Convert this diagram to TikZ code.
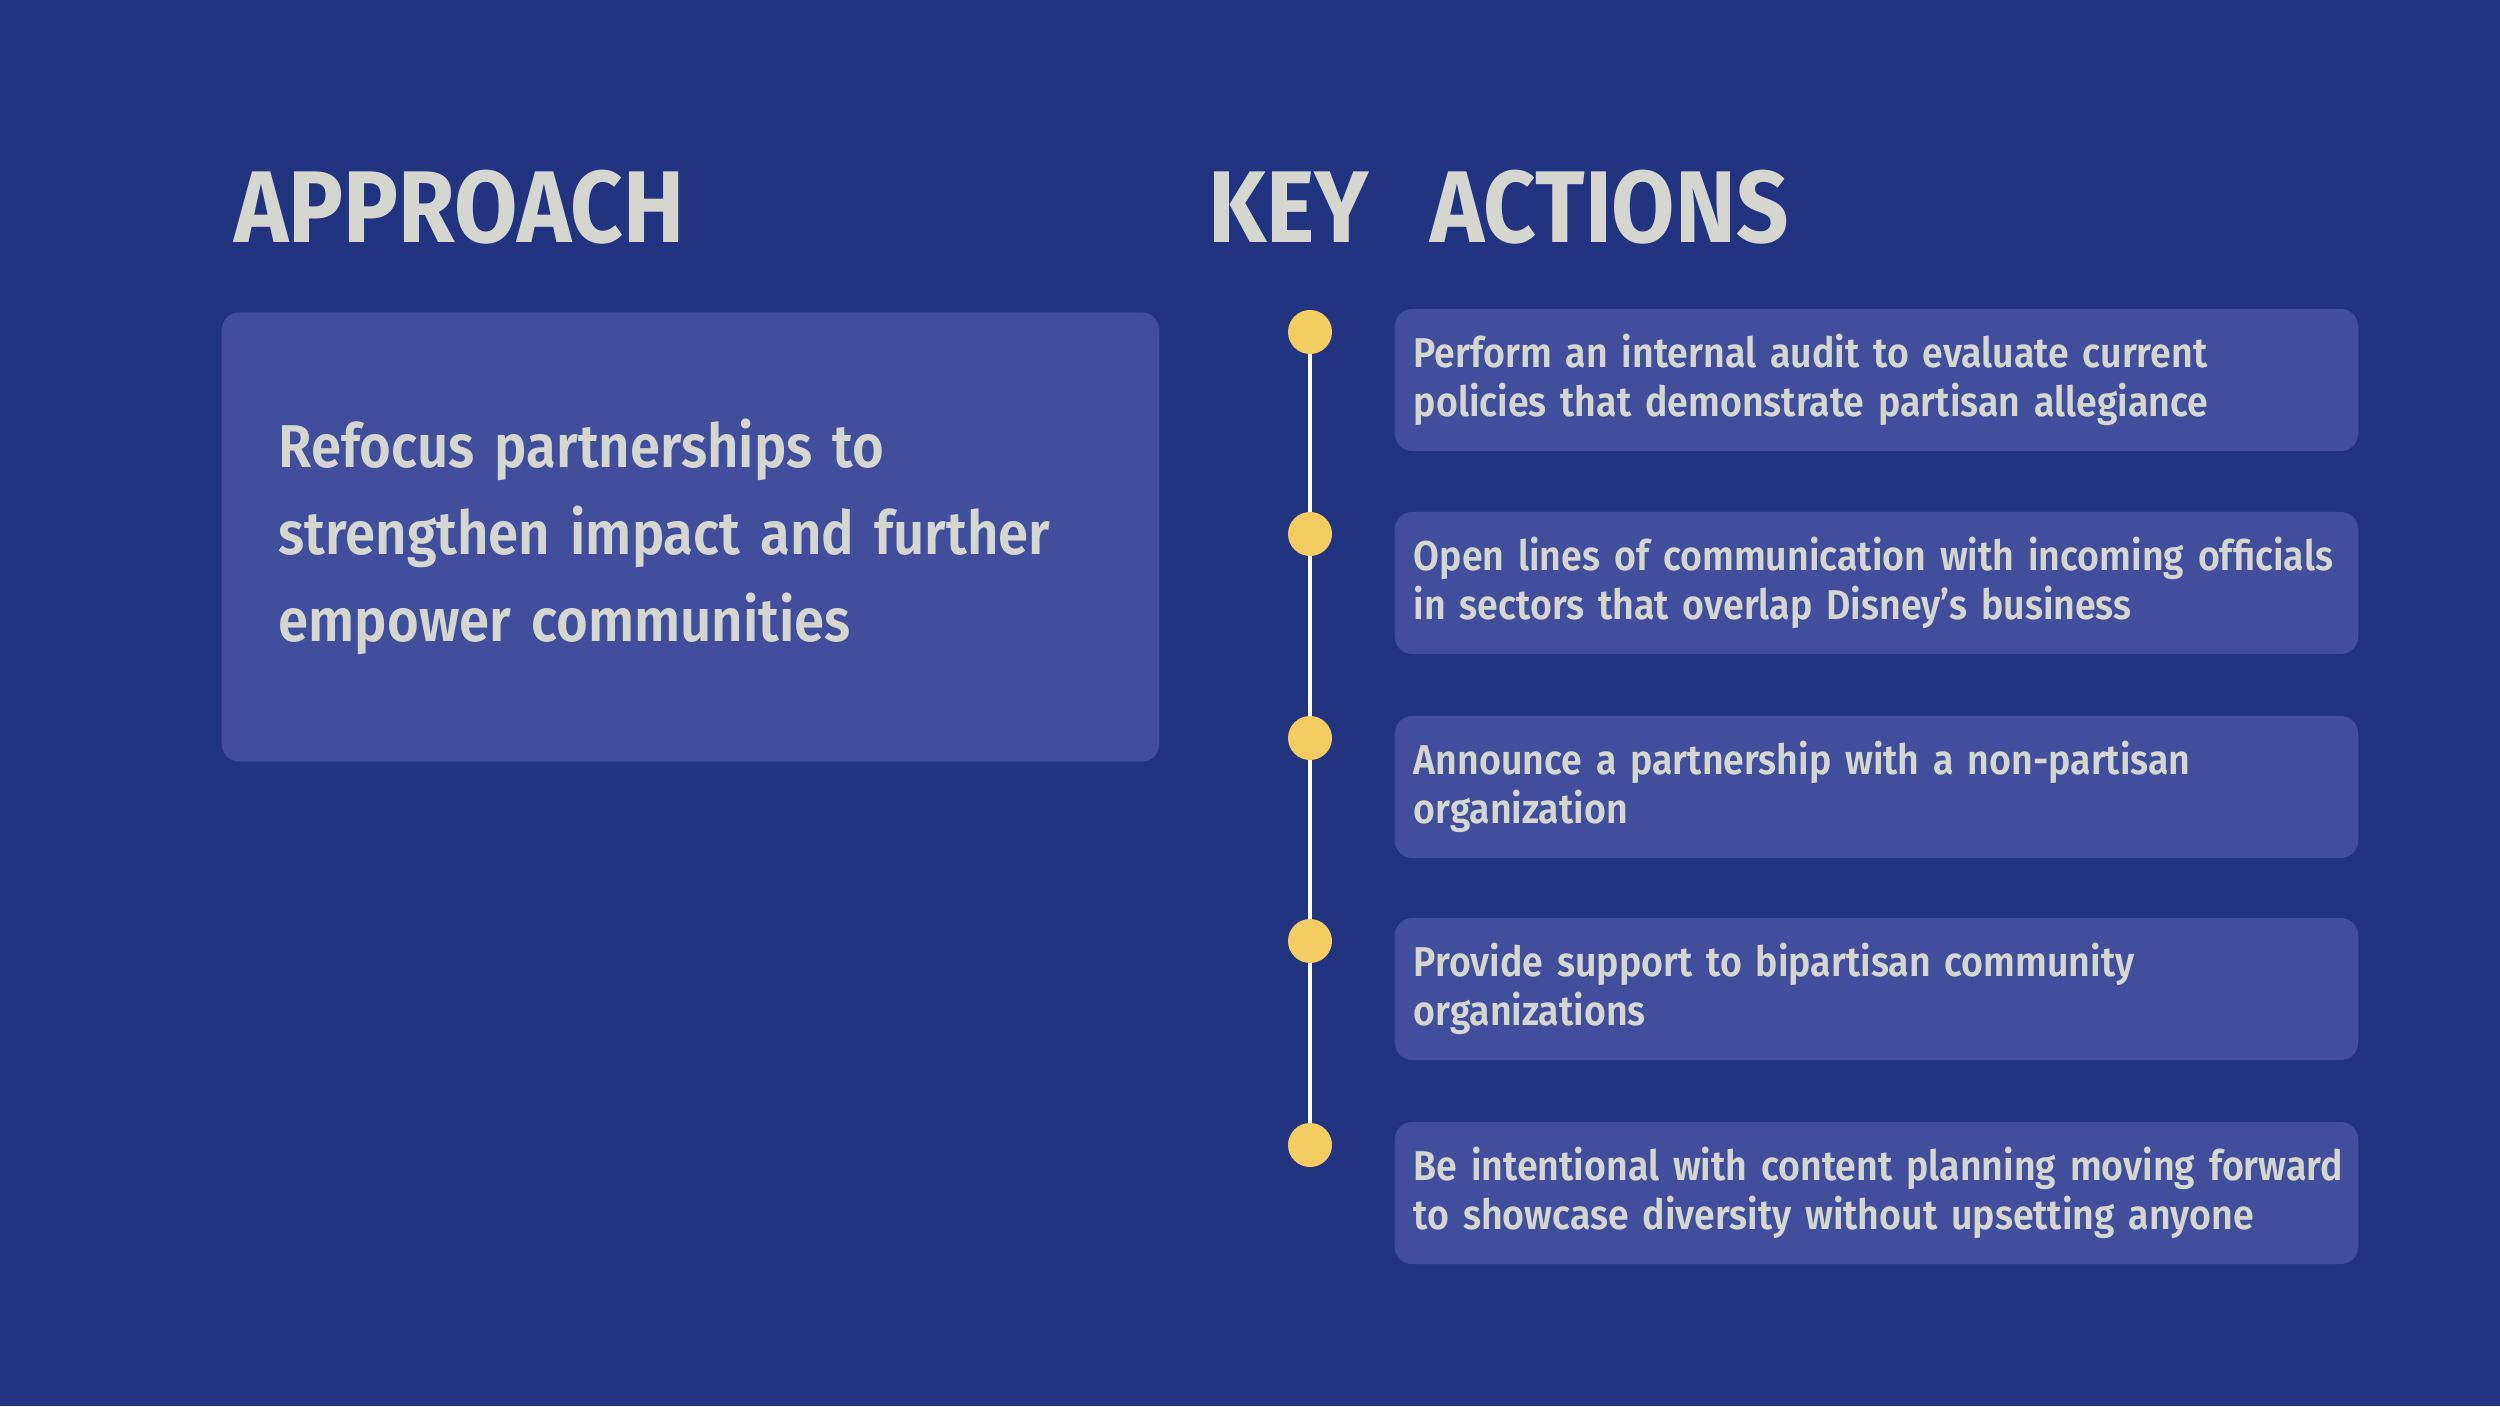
\documentclass[tikz,border=0pt]{standalone}
\usepackage{fontspec}
\setmainfont{Fira Sans}[UprightFont={Fira Sans SemiBold},BoldFont={Fira Sans Bold},FakeStretch=0.9,WordSpace=0.8]
\usetikzlibrary{positioning,backgrounds}
\definecolor{NightBlue}{RGB}{34,51,128}
\definecolor{CardBlue}{RGB}{65,78,156}
\definecolor{PaleText}{RGB}{214,214,208}
\definecolor{DotGold}{RGB}{243,205,98}
\tikzset{
	heading/.style={anchor=base west,inner sep=0pt,text=PaleText,font=\bfseries\fontsize{29}{29}\selectfont},
	card/.style={fill=CardBlue,rounded corners=5pt,text=PaleText,align=left,inner ysep=0pt},
	action/.style={card,minimum width=9.63cm,minimum height=1.42cm,text width=9.25cm,inner xsep=0.19cm,
		font=\fontsize{11.85}{13.9}\selectfont},
	dot/.style={circle,fill=DotGold,minimum size=0.44cm,inner sep=0pt},
	rail/.style={draw=white,line width=0.9pt},
}

\begin{document}
\begin{tikzpicture}[x=0.01cm,y=-0.01cm]
	\useasboundingbox (0,0) rectangle (2500,1406);
	% headings
	\node[heading] (approach) at (234,242) {APPROACH};
	\node[heading] (keyactions) at (1208,242) {KEY\hspace{0.6em}ACTIONS};
	% approach card
	\node[card,minimum width=9.37cm,minimum height=4.49cm,text width=8.23cm,inner xsep=0.57cm,
		font=\fontsize{17.2}{24.75}\selectfont] (partner) at (690.5,537)
		{\mbox{Refocus partnerships to}\\\mbox{strengthen impact and further}\\\mbox{empower communities}};
	% timeline
	\node[dot] (d1) at (1310,332) {};
	\node[dot] (d2) at (1310,534) {};
	\node[dot] (d3) at (1310,738) {};
	\node[dot] (d4) at (1310,941) {};
	\node[dot] (d5) at (1310,1145) {};
	\node[action] (act1) at (1876.5,380) {\mbox{Perform an internal audit to evaluate current}\\\mbox{policies that demonstrate partisan allegiance}};
	\node[action] (act2) at (1876.5,583) {\mbox{Open lines of communication with incoming officials}\\\mbox{in sectors that overlap Disney’s business}};
	\node[action] (act3) at (1876.5,787) {\mbox{Announce a partnership with a non-partisan}\\\mbox{organization}};
	\node[action] (act4) at (1876.5,989) {\mbox{Provide support to bipartisan community}\\\mbox{organizations}};
	\node[action] (act5) at (1876.5,1193) {\mbox{Be intentional with content planning moving forward}\\\mbox{to showcase diversity without upsetting anyone}};
	\begin{scope}[on background layer]
		\fill[NightBlue] (0,0) rectangle (2500,1406);
		\draw[rail] (d1.center) -- (d5.center);
	\end{scope}
\end{tikzpicture}
\end{document}
